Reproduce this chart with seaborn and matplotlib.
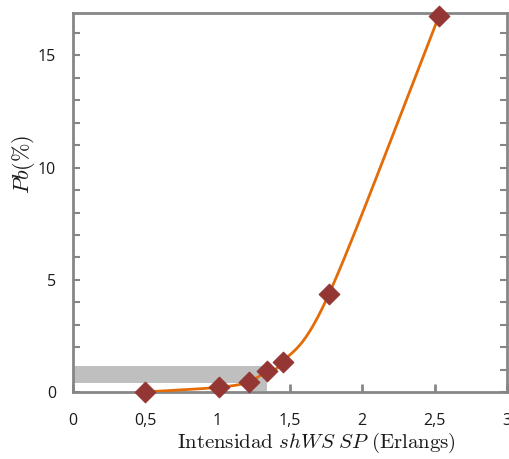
import numpy as np
import pandas as pd
import matplotlib
matplotlib.use("Agg")
import matplotlib.pyplot as plt
import seaborn as sns
from matplotlib.ticker import MultipleLocator, FixedLocator

intensity = [0.5, 1.01, 1.22, 1.34, 1.45, 1.77, 2.53]
pb = [0.0, 0.21, 0.46, 0.95, 1.33, 4.37, 16.75]
xtick_vals = [0, 0.5, 1, 1.5, 2, 2.5, 3]
xtick_labels = ["0", "0,5", "1", "1,5", "2", "2,5", "3"]
ytick_vals = [0, 5, 10, 15]
ytick_labels = ["0", "5", "10", "15"]

sns.set_style("white")
plt.rcParams['font.family'] = ['Open Sans', 'DejaVu Sans']
plt.rcParams['mathtext.fontset'] = 'cm'

def catmull_rom(x, y, n=30):
    x = np.asarray(x, float); y = np.asarray(y, float)
    px = np.concatenate([[2*x[0]-x[1]], x, [2*x[-1]-x[-2]]])
    py = np.concatenate([[2*y[0]-y[1]], y, [2*y[-1]-y[-2]]])
    ox, oy = [], []
    for i in range(1, len(px)-2):
        t = np.linspace(0, 1, n, endpoint=(i == len(px)-3))
        for arr, out in ((px, ox), (py, oy)):
            p0, p1, p2, p3 = arr[i-1], arr[i], arr[i+1], arr[i+2]
            out.extend(0.5*((2*p1) + (-p0+p2)*t + (2*p0-5*p1+4*p2-p3)*t**2 + (-p0+3*p1-3*p2+p3)*t**3))
    return np.array(ox), np.array(oy)

fig = plt.figure(figsize=(5.10, 4.59), dpi=100)
ax = fig.add_axes([0.143, 0.146, 0.851, 0.826])

# highlight
ax.add_patch(plt.Rectangle((0, 0.4), 1.34, 0.75, color='#bfbfbf', lw=0, zorder=1))
ax.add_patch(plt.Rectangle((1.22, 0.05), 0.12, 0.4, color='#bfbfbf', lw=0, zorder=1))

sx, sy = catmull_rom(intensity, pb)
smooth = pd.DataFrame({"x": sx, "y": sy})
sns.lineplot(data=smooth, x="x", y="y", ax=ax, color='#e36c09', lw=2, sort=False, zorder=3)
df = pd.DataFrame({"x": intensity, "y": pb})
sns.scatterplot(data=df, x="x", y="y", ax=ax, marker='D', s=110, color='#943634',
                edgecolor='#943634', zorder=4, clip_on=False)

ax.set_xlim(0, 3)
ax.set_ylim(0, 16.9)
ax.xaxis.set_major_locator(FixedLocator(xtick_vals))
ax.set_xticklabels(xtick_labels)
ax.yaxis.set_major_locator(FixedLocator(ytick_vals))
ax.set_yticklabels(ytick_labels)
ax.yaxis.set_minor_locator(MultipleLocator(1))

for s in ax.spines.values():
    s.set_color('#868686')
    s.set_linewidth(2)

ax.tick_params(axis='x', which='major', direction='in', length=6, width=2, color='#868686',
               pad=15, labelsize=11.5, labelcolor='#1a1a1a', bottom=True, top=False)
ax.tick_params(axis='y', which='both', direction='in', length=5, width=1.5, color='#868686',
               left=True, right=True)
ax.tick_params(axis='y', which='major', pad=12, labelsize=11.5, labelcolor='#1a1a1a')

ax.set_xlabel(r'$\mathrm{Intensidad}\ shWS\ SP\ \mathrm{(Erlangs)}$', fontsize=15, color='#1a1a1a')
ax.xaxis.set_label_coords(0.56, -0.135)
ax.xaxis.label.set_va('center')
ax.set_ylabel(r'$\mathit{Pb(\%)}$', fontsize=16, color='#1a1a1a')
ax.yaxis.set_label_coords(-0.115, 0.60)
ax.yaxis.label.set_va('center')

fig.savefig("out.png", dpi=100)
